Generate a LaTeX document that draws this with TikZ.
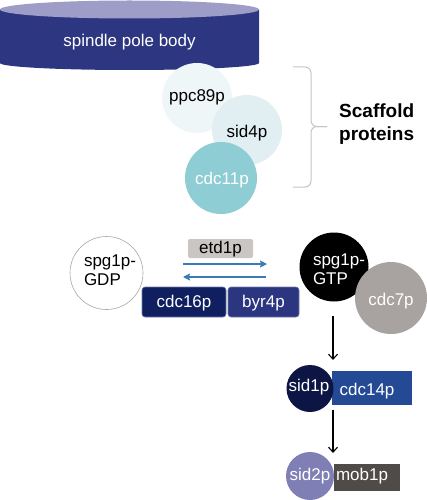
\documentclass[tikz,border=0pt]{standalone}
\usepackage{fontspec}
\setmainfont{Liberation Sans}
\usetikzlibrary{arrows.meta}
\definecolor{spbdark}{HTML}{2D3680}
\definecolor{spbtop}{HTML}{9D9DC8}
\definecolor{ppccol}{HTML}{EEF6F8}
\definecolor{sidcol}{HTML}{E1EFF2}
\definecolor{cdcteal}{HTML}{8ECDD3}
\definecolor{etdgray}{HTML}{C9C6C4}
\definecolor{arrowblue}{HTML}{3A7AB5}
\definecolor{navyA}{HTML}{0F1F60}
\definecolor{navyB}{HTML}{2B3580}
\definecolor{boxedge}{HTML}{6F7BA8}
\definecolor{cdcgray}{HTML}{A8A2A0}
\definecolor{sidonecol}{HTML}{0D1545}
\definecolor{cdcfourteen}{HTML}{244A96}
\definecolor{sidtwocol}{HTML}{7F7FB5}
\definecolor{mobcol}{HTML}{4F4B48}
\definecolor{bracegray}{HTML}{C4C4C4}
\tikzset{
  txt/.style={font=\fontsize{17}{19}\selectfont, inner sep=0pt},
  ball/.style={circle, draw=none, inner sep=0pt},
  pbox/.style={draw=none, inner sep=0pt},
  blackarrow/.style={-{Straight Barb[length=5pt,width=9pt]}, line width=1.1pt, black},
  bluearrow/.style={-{Stealth[length=7pt,width=7pt,inset=1pt]}, line width=1.3pt, arrowblue},
  bracestyle/.style={bracegray, line width=1pt, rounded corners=6pt}
}
\begin{document}
\begin{tikzpicture}[x=1pt,y=-1pt]
\useasboundingbox (0,0) rectangle (427,500);
% spindle pole body cylinder
\fill[spbdark] (0,9.5) -- (0,63) arc[start angle=180,end angle=0,x radius=129.5,y radius=7] -- (259,9.5) -- cycle;
\fill[spbtop] (129.5,9.5) ellipse[x radius=129.5,y radius=9];
\node[txt, text=white] (spb) at (129.5,42) {spindle pole body};
% scaffold circles
\node[ball, fill=ppccol, minimum size=70pt] (ppc) at (197,98) {};
\node[ball, fill=sidcol, minimum size=70pt] (sid4) at (247,130) {};
\node[ball, fill=cdcteal, minimum size=72pt] (cdc11) at (221,178) {};
\node[txt] (ppct) at (197,97) {ppc89p};
\node[txt] (sid4t) at (247,133) {sid4p};
\node[txt, text=white] (cdc11t) at (222,180) {cdc11p};
% brace
\coordinate (btop) at (293,67);
\coordinate (bbot) at (293,187);
\coordinate (btip) at (327,126.5);
\draw[bracestyle] (btop) -- (311,67) -- (311,126.5) -- (btip);
\draw[bracestyle] (bbot) -- (311,187) -- (311,126.5) -- (btip);
\node[font=\fontsize{19}{23}\selectfont\bfseries, align=left, anchor=west, inner sep=0pt] (scaf) at (339,124) {Scaffold\\proteins};
% spg1p-GDP
\node[ball, draw=gray!70, line width=0.6pt, fill=white, minimum size=73pt] (gdp) at (106.5,273) {};
\node[txt, align=left] (gdpt) at (110,270) {spg1p-\\GDP};
% etd1p
\node[pbox, fill=etdgray, rounded corners=2pt, minimum width=65pt, minimum height=19pt] (etd) at (220.5,248.5) {};
\node[txt] (etdt) at (220.5,249) {etd1p};
% arrows
\coordinate (a1s) at (183,264);
\coordinate (a1e) at (267,264);
\coordinate (a2s) at (266,277);
\coordinate (a2e) at (183,277);
\draw[bluearrow] (a1s) -- (a1e);
\draw[bluearrow] (a2s) -- (a2e);
% cdc16p byr4p
\node[pbox, fill=navyA, draw=boxedge, line width=0.6pt, rounded corners=3pt, minimum width=84pt, minimum height=30pt] (cdc16) at (184,302) {};
\node[txt, text=white] (cdc16t) at (184,303) {cdc16p};
\node[pbox, fill=navyB, draw=boxedge, line width=0.6pt, rounded corners=3pt, minimum width=71pt, minimum height=30pt] (byr4) at (263.5,302) {};
\node[txt, text=white] (byr4t) at (263.5,303) {byr4p};
% spg1p-GTP and cdc7p
\node[ball, fill=black, minimum size=69pt] (gtp) at (334,267) {};
\node[ball, fill=cdcgray, minimum size=72pt] (cdc7) at (391,298) {};
\node[txt, text=white, align=left] (gtpt) at (339,269) {spg1p-\\GTP};
\node[txt, text=white] (cdc7t) at (391,301) {cdc7p};
% sid1p cdc14p
\node[pbox, fill=cdcfourteen, minimum width=80pt, minimum height=34pt] (cdc14) at (372,388) {};
\node[ball, fill=sidonecol, minimum size=47pt] (sid1) at (310,388.5) {};
\node[txt, text=white] (sid1t) at (309,387) {sid1p};
\node[txt, text=white] (cdc14t) at (367,391) {cdc14p};
% sid2p mob1p
\node[pbox, fill=mobcol, minimum width=66pt, minimum height=27pt] (mob) at (367,477.5) {};
\node[ball, fill=sidtwocol, minimum size=48pt] (sid2) at (310,476) {};
\node[txt, text=white] (sid2t) at (310,476) {sid2p};
\node[txt, text=white] (mobt) at (362,476) {mob1p};
% vertical arrows
\coordinate (v1s) at (333,316);
\coordinate (v1e) at (333,360);
\coordinate (v2s) at (333,410);
\coordinate (v2e) at (333,453);
\draw[blackarrow] (v1s) -- (v1e);
\draw[blackarrow] (v2s) -- (v2e);
\end{tikzpicture}
\end{document}
